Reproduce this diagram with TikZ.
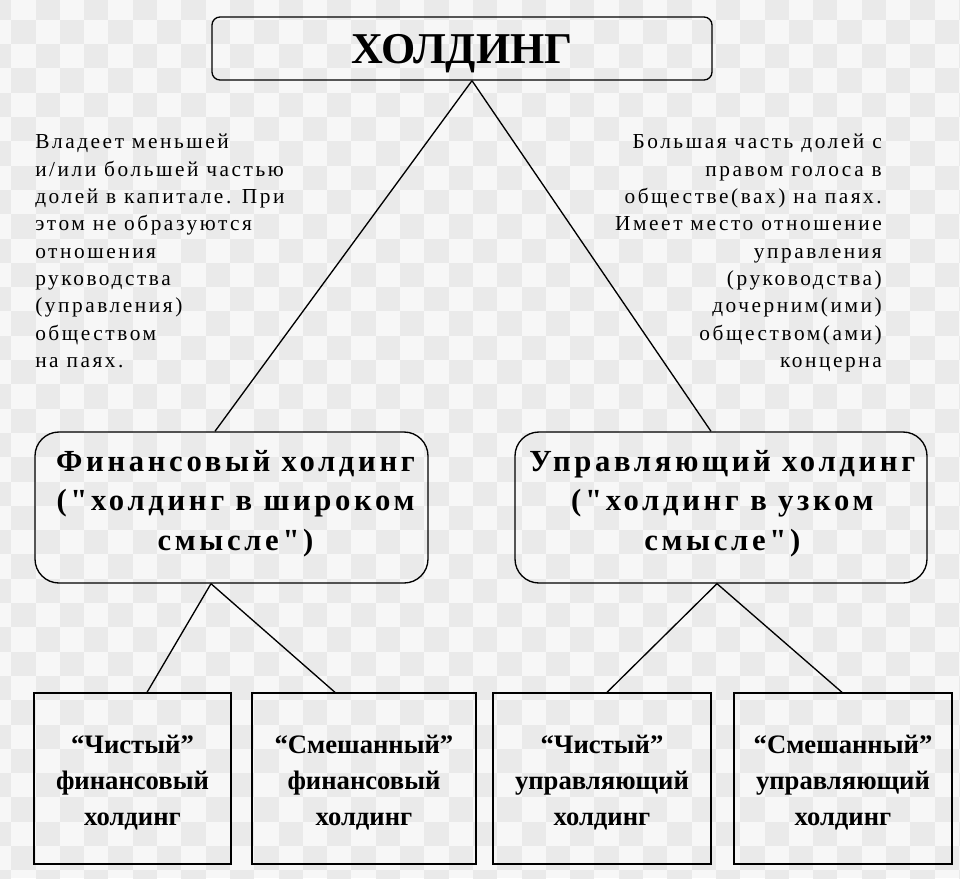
\documentclass[tikz,border=0pt]{standalone}
\usepackage{fontspec}
\setmainfont{Liberation Serif}
\newfontfamily\notefont[LetterSpace=12]{Liberation Serif}
\newfontfamily\midfont[LetterSpace=12]{Liberation Serif}
\definecolor{checkA}{HTML}{F7F7F7}
\definecolor{checkB}{HTML}{EAEAEA}
\tikzset{
  conn/.style={draw=black, line width=1pt},
  topbox/.style={draw=black, line width=1pt, rounded corners=6pt, inner sep=0pt,
    minimum width=375pt, minimum height=47.25pt, text depth=0pt,
    font=\bfseries\fontsize{33}{40}\selectfont},
  midbox/.style={draw=black, line width=1pt, rounded corners=18pt, inner sep=0pt,
    minimum height=113.25pt},
  midtext/.style={inner sep=0pt, align=center,
    font=\midfont\bfseries\fontsize{23}{29.5}\selectfont},
  lowbox/.style={draw=black, line width=1pt, inner sep=0pt,
    minimum height=128.25pt},
  lowtext/.style={inner sep=0pt, align=center,
    font=\bfseries\fontsize{20}{27}\selectfont},
  notetext/.style={inner sep=0pt, font=\notefont\fontsize{16}{20.5}\selectfont}
}
\begin{document}
\begin{tikzpicture}[x=0.75pt, y=-0.75pt]
\useasboundingbox (0,0) rectangle (960,878);
% faded checkerboard background
\fill[checkA] (0,0) rectangle (960,878);
\begin{scope}
\clip (0,0) rectangle (960,878);
\foreach \i in {-1,...,40}{
  \foreach \j in {-1,...,37}{
    \pgfmathtruncatemacro\chk{mod(\i+\j+100,2)}
    \ifnum\chk=0
      \fill[checkB] ({11.2+24.3*\i},{19.8+24.3*\j}) rectangle ++(24.3,24.3);
    \fi
  }
}
\end{scope}

% boxes
\node[topbox] (top) at (462,48.5) {ХОЛДИНГ};
\node[midbox, minimum width=294.75pt] (fin) at (231.5,507.5) {};
\node[midbox, minimum width=309pt] (upr) at (721,507.5) {};
\node[lowbox, minimum width=147.75pt] (b1) at (132.5,778.5) {};
\node[lowbox, minimum width=168pt] (b2) at (364,778.5) {};
\node[lowbox, minimum width=163.5pt] (b3) at (602,778.5) {};
\node[lowbox, minimum width=163.5pt] (b4) at (843,778.5) {};

% box texts
\node[midtext] (fint) at ([xshift=3pt,yshift=3pt]fin.center)
  {Финансовый холдинг\\("холдинг в широком\\смысле")};
\node[midtext] (uprt) at ([xshift=1pt,yshift=3pt]upr.center)
  {Управляющий холдинг\\("холдинг в узком\\смысле")};
\node[lowtext] (b1t) at ([yshift=-3pt]b1.center) {“Чистый”\\финансовый\\холдинг};
\node[lowtext] (b2t) at ([yshift=-3pt]b2.center) {“Смешанный”\\финансовый\\холдинг};
\node[lowtext] (b3t) at ([yshift=-3pt]b3.center) {“Чистый”\\управляющий\\холдинг};
\node[lowtext] (b4t) at ([yshift=-3pt]b4.center) {“Смешанный”\\управляющий\\холдинг};

% notes
\node[notetext, anchor=north west, align=left] (nl) at (35,134)
  {Владеет меньшей\\и/или большей частью\\долей в капитале. При\\этом не образуются\\отношения\\руководства\\(управления)\\обществом\\на паях.};
\node[notetext, anchor=north east, align=right] (nr) at (882,134)
  {Большая часть долей с\\правом голоса в\\обществе(вах) на паях.\\Имеет место отношение\\управления\\(руководства)\\дочерним(ими)\\обществом(ами)\\концерна};

% connectors
\draw[conn] ([xshift=7.5pt]top.south) -- ([xshift=-12.4pt]fin.north);
\draw[conn] ([xshift=7.5pt]top.south) -- ([xshift=-7.5pt]upr.north);
\draw[conn] ([xshift=-15.4pt]fin.south) -- ([xshift=10.9pt]b1.north);
\draw[conn] ([xshift=-15.4pt]fin.south) -- ([xshift=-21.75pt]b2.north);
\draw[conn] ([xshift=-3pt]upr.south) -- ([xshift=3.75pt]b3.north);
\draw[conn] ([xshift=-3pt]upr.south) -- ([xshift=-0.75pt]b4.north);
\end{tikzpicture}
\end{document}
